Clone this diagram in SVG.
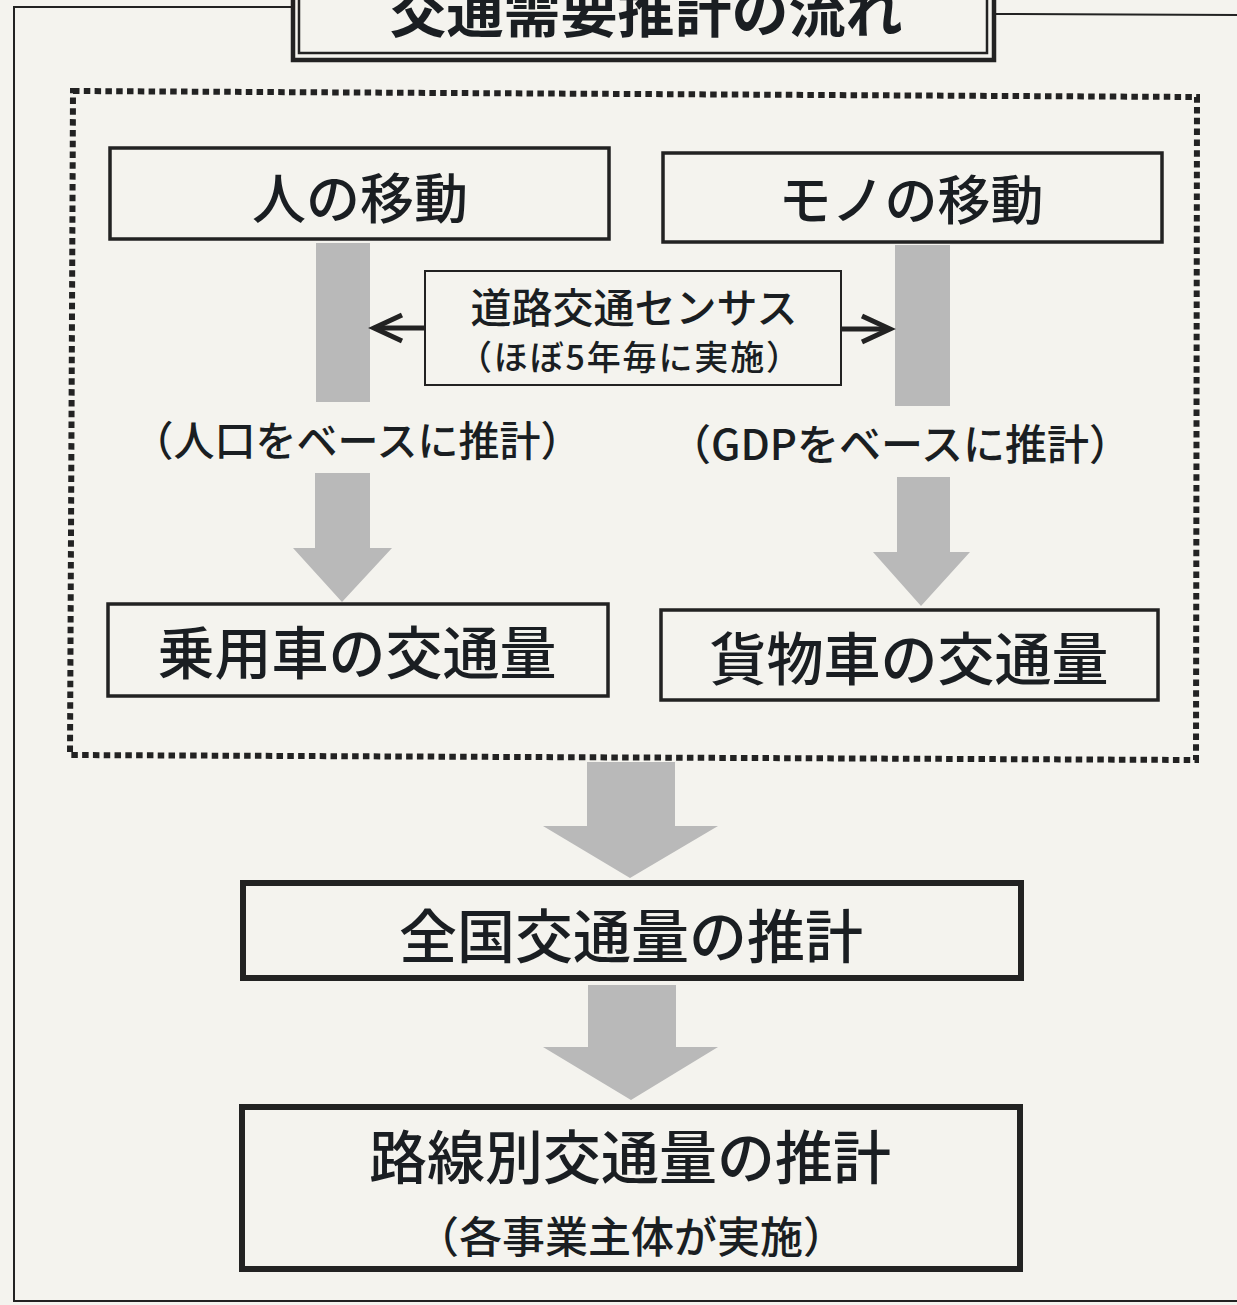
<svg xmlns="http://www.w3.org/2000/svg" width="1237" height="1305" viewBox="0 0 1237 1305">
  <style>
    .t { font-family: "Noto Sans CJK JP", "Noto Sans CJK SC", sans-serif; fill: #1a1e22; text-anchor: middle; font-weight: 500; }
    .ttl { font-weight: 700; }
    .box { fill: none; stroke: #222; stroke-width: 3.5; }
    .bbox { fill: none; stroke: #222; stroke-width: 6; }
    .bar { fill: #b9b9b9; }
    .frame { fill: none; stroke: #222; stroke-width: 2; }
    .carrow { fill: none; stroke: #222; stroke-width: 5; stroke-linecap: butt; stroke-linejoin: miter; }
  </style>
  <rect x="0" y="0" width="1237" height="1305" fill="#f4f3ee"/>

  <g id="frame">
    <polyline class="frame" points="293,7 14,7 14,1301 1237,1301"/>
    <line class="frame" x1="996" y1="14" x2="1237" y2="15"/>
  </g>

  <g id="title">
    <rect x="293" y="-20" width="701" height="80" fill="#f4f3ee" stroke="#222" stroke-width="4.5"/>
    <rect x="299" y="-20" width="688" height="73" fill="none" stroke="#222" stroke-width="2.5"/>
    <text class="t ttl" x="646" y="32" font-size="57">交通需要推計の流れ</text>
  </g>

  <g id="group-box">
    <path d="M73,91 L1197,97 L1196,760 L70,755 Z" fill="none" stroke="#222" stroke-width="6" stroke-dasharray="6.5 4.3"/>
  </g>

  <g id="connectors">
    <rect class="bar" x="316" y="243" width="54" height="159"/>
    <rect class="bar" x="895" y="245" width="55" height="161"/>
    <polygon class="bar" points="315,473 370,473 370,548 392,548 342,602 293,548 315,548"/>
    <polygon class="bar" points="897,477 950,477 950,552 970,552 921,606 873,552 897,552"/>
    <polygon class="bar" points="587,762 675,762 675,826 718,826 630,878 543,826 587,826"/>
    <polygon class="bar" points="588,985 676,985 676,1047 718,1047 631,1100 543,1047 588,1047"/>
    <line class="carrow" x1="425" y1="328" x2="376" y2="328"/>
    <polyline class="carrow" points="402,315 374,328 402,341"/>
    <line class="carrow" x1="841" y1="329" x2="888" y2="329"/>
    <polyline class="carrow" points="862,316 890,329 862,342"/>
  </g>

  <g id="node-hito">
    <rect class="box" x="110" y="148" width="499" height="91"/>
    <text class="t" x="360" y="219" font-size="54">人の移動</text>
  </g>

  <g id="node-mono">
    <rect class="box" x="663" y="153" width="499" height="89"/>
    <text class="t" x="911" y="220" font-size="53">モノの移動</text>
  </g>

  <g id="node-census">
    <rect x="425" y="271" width="416" height="114" fill="none" stroke="#222" stroke-width="2"/>
    <text class="t" x="634" y="323" font-size="41">道路交通センサス</text>
    <text class="t" x="629" y="370" font-size="34" textLength="342" lengthAdjust="spacing">（ほぼ5年毎に実施）</text>
  </g>

  <g id="label-jinko">
    <text class="t" x="357" y="456" font-size="41">（人口をベースに推計）</text>
  </g>

  <g id="label-gdp">
    <text class="t" x="900" y="460" font-size="42">（GDPをベースに推計）</text>
  </g>

  <g id="node-jouyousha">
    <rect class="box" x="108" y="604" width="500" height="92"/>
    <text class="t" x="357" y="674" font-size="57">乗用車の交通量</text>
  </g>

  <g id="node-kamotsusha">
    <rect class="box" x="661" y="610" width="497" height="90"/>
    <text class="t" x="909" y="680" font-size="57">貨物車の交通量</text>
  </g>

  <g id="node-zenkoku">
    <rect class="bbox" x="243" y="883" width="778" height="95"/>
    <text class="t" x="631" y="958" font-size="58">全国交通量の推計</text>
  </g>

  <g id="node-rosen">
    <rect class="bbox" x="242" y="1107" width="778" height="162"/>
    <text class="t" x="630" y="1179" font-size="58">路線別交通量の推計</text>
    <text class="t" x="631" y="1253" font-size="43">（各事業主体が実施）</text>
  </g>
</svg>
